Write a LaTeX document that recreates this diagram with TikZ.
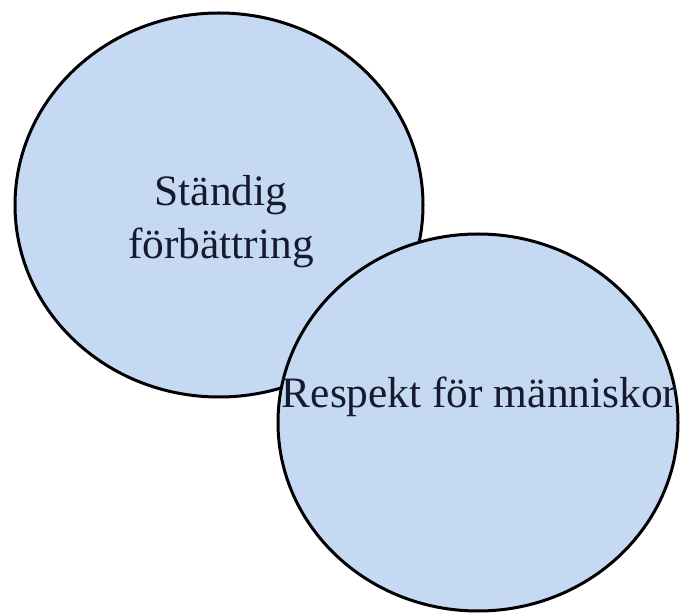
\documentclass[tikz,border=0pt]{standalone}
\usepackage{fontspec}
\setmainfont{Liberation Serif}
\definecolor{nenxanh}{RGB}{198,217,243}
\definecolor{mauchu}{RGB}{22,26,46}
\begin{document}
\begin{tikzpicture}[x=.5pt,y=-.5pt,
            vong/.style={draw=black,line width=1.5pt,fill=nenxanh},
            chu/.style={font=\fontsize{21.7}{26.5}\selectfont,text=mauchu,
                align=center,inner sep=0pt}]
            \useasboundingbox (0,0) rectangle (680,614);
            \draw[vong] (219,205) ellipse [x radius=204,y radius=192]; % <<< vòng 1
            \path (221,221.5) node[chu] (ST) {Ständig\\förbättring};
            \draw[vong] (478,422.5) ellipse [x radius=200,y radius=188.5]; % <<< vòng 2
            \path (479.5,408) node[chu,anchor=base] (RP) {Respekt för människor};
        \end{tikzpicture}
\end{document}
